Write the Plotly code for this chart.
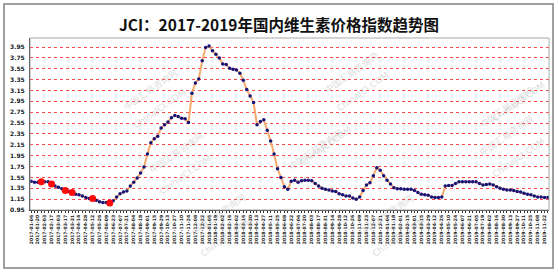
import plotly.graph_objects as go
import datetime as dt

# weekly vitamin price index values
values = [
    1.48, 1.46, 1.46, 1.47, 1.47, 1.47, 1.43, 1.39, 1.37, 1.34,
    1.31, 1.29, 1.27, 1.24, 1.23, 1.21, 1.18, 1.16, 1.16, 1.13,
    1.10, 1.09, 1.09, 1.08, 1.12, 1.19, 1.25, 1.28, 1.30, 1.39,
    1.46, 1.54, 1.63, 1.74, 1.98, 2.19, 2.26, 2.31, 2.46, 2.52,
    2.57, 2.65, 2.69, 2.67, 2.64, 2.63, 2.56, 3.10, 3.29, 3.36,
    3.70, 3.94, 3.97, 3.88, 3.82, 3.75, 3.64, 3.63, 3.56, 3.54,
    3.53, 3.47, 3.34, 3.17, 3.05, 2.93, 2.52, 2.58, 2.61, 2.42,
    2.22, 1.98, 1.71, 1.55, 1.38, 1.33, 1.48, 1.50, 1.46, 1.49,
    1.50, 1.50, 1.49, 1.44, 1.39, 1.35, 1.33, 1.32, 1.30, 1.29,
    1.25, 1.23, 1.21, 1.21, 1.17, 1.15, 1.19, 1.31, 1.41, 1.45,
    1.58, 1.73, 1.68, 1.58, 1.50, 1.43, 1.36, 1.34, 1.34, 1.33,
    1.33, 1.33, 1.31, 1.27, 1.24, 1.23, 1.22, 1.19, 1.18, 1.18,
    1.19, 1.39, 1.40, 1.40, 1.44, 1.47, 1.47, 1.47, 1.47, 1.47,
    1.47, 1.44, 1.41, 1.42, 1.43, 1.41, 1.38, 1.35, 1.33, 1.32,
    1.32, 1.31, 1.29, 1.28, 1.26, 1.24, 1.23, 1.21, 1.19, 1.19,
    1.18, 1.18,
]
# highlighted (red) points
red_idx = [3, 6, 10, 12, 18, 23]

start = dt.date(2017, 1, 6)
dates = [(start + dt.timedelta(weeks=i)).strftime("%Y-%m-%d") for i in range(len(values))]
x = list(range(len(values)))

ytick_vals = [0.95, 1.15, 1.35, 1.55, 1.75, 1.95, 2.15, 2.35, 2.55, 2.75,
              2.95, 3.15, 3.35, 3.55, 3.75, 3.95]
ytick_text = ["%.2f" % v for v in ytick_vals]

title = "JCI：2017-2019年国内维生素价格指数趋势图"

fig = go.Figure()
fig.add_trace(go.Scatter(
    x=x, y=values, mode="lines+markers",
    line=dict(color="#F8A86A", width=2),
    marker=dict(color="#14147A", size=3.5),
    hoverinfo="skip", showlegend=False,
))
fig.add_trace(go.Scatter(
    x=[x[i] for i in red_idx], y=[values[i] for i in red_idx], mode="markers",
    marker=dict(color="#FF0A0A", size=7),
    hoverinfo="skip", showlegend=False,
))

# watermarks
wm = []
for (wx, wy) in [(0.17, 0.85), (0.62, 0.95), (0.98, 0.75), (0.22, 0.18),
                 (0.55, 0.35), (0.98, 0.28), (0.30, -0.18), (0.75, -0.18)]:
    wm.append(dict(xref="paper", yref="paper", x=wx, y=wy, text="中国汇易咨询网",
                   showarrow=False, textangle=-35,
                   font=dict(size=9, color="rgba(150,150,150,0.35)", family="Noto Sans CJK SC")))
    wm.append(dict(xref="paper", yref="paper", x=wx + 0.02, y=wy - 0.12, text="ChinaJCI.COM",
                   showarrow=False, textangle=-35,
                   font=dict(size=9, color="rgba(150,150,150,0.35)", family="DejaVu Sans")))

fig.update_layout(
    width=558, height=274,
    margin=dict(l=30, r=9, t=38, b=64),
    paper_bgcolor="white", plot_bgcolor="white",
    title=dict(text="<b>" + title + "</b>", x=0.5, xanchor="center", y=0.905, yanchor="middle",
               font=dict(size=15.5, color="#111111", family="Noto Sans CJK SC")),
    xaxis=dict(
        range=[-0.3, 151.3], showgrid=False, zeroline=False,
        tickvals=x[::2], ticktext=dates[::2], tickangle=-90,
        tickfont=dict(size=4.6, color="#222222", family="DejaVu Sans", weight="bold"),
        ticks="outside", ticklen=2, tickcolor="#333333",
        showline=True, linecolor="#222222", linewidth=1,
        minor=dict(ticks="outside", ticklen=2, dtick=1, tickcolor="#333333"),
    ),
    yaxis=dict(
        range=[0.95, 4.117], tickvals=ytick_vals, ticktext=ytick_text,
        showgrid=True, gridcolor="#FF4848", griddash="dot", gridwidth=1,
        zeroline=False, showline=True, linecolor="#222222", linewidth=1,
        tickfont=dict(size=6, color="#222222", family="DejaVu Sans", weight="bold"),
        ticks="", ticklabelstandoff=3,
    ),
    shapes=[
        dict(type="rect", xref="paper", yref="paper", x0=0, x1=1, y0=0, y1=1,
             line=dict(color="#A8A8A8", width=1), layer="above"),
        dict(type="rect", xref="paper", yref="paper", x0=-0.0501, x1=1.0077, y0=-0.3372, y1=1.1977,
             line=dict(color="#808080", width=1.5)),
    ],
    annotations=wm,
)

fig.write_html("out.html")
